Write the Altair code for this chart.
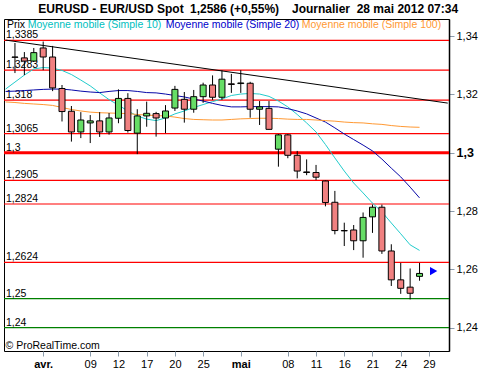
import altair as alt
import pandas as pd

FONT = "Liberation Sans"

# ---- candles (trading-day index 0 = 28 mars 2012 ... 43 = 28 mai 2012) ----
day_idx = list(range(44))
opens = [1.3328, 1.3325, 1.3314, 1.3359, 1.3328, 1.3220, 1.3142, 1.3071, 1.3102, 1.3109,
         1.3071, 1.3118, 1.3186, 1.3067, 1.3126, 1.3134, 1.3119, 1.3153, 1.3183, 1.3149,
         1.3192, 1.3232, 1.3190, 1.3236, 1.3237, 1.3238, 1.3149, 1.3152, 1.3012, 1.3061,
         1.2991, 1.2934, 1.2932, 1.2903, 1.2830, 1.2733, 1.2735, 1.2698, 1.2780, 1.2813,
         1.2663, 1.2564, 1.2539, 1.2576]
highs = [1.3376, 1.3345, 1.3359, 1.3381, 1.3366, 1.3232, 1.3160, 1.3139, 1.3129, 1.3139,
         1.3136, 1.3217, 1.3204, 1.3149, 1.3175, 1.3140, 1.3163, 1.3229, 1.3208, 1.3215,
         1.3240, 1.3265, 1.3282, 1.3270, 1.3283, 1.3243, 1.3177, 1.3177, 1.3064, 1.3064,
         1.3006, 1.2977, 1.2958, 1.2905, 1.2869, 1.2760, 1.2752, 1.2795, 1.2822, 1.2822,
         1.2686, 1.2622, 1.2603, 1.2622]
lows = [1.3273, 1.3266, 1.3311, 1.3283, 1.3211, 1.3107, 1.3038, 1.3050, 1.3033, 1.3054,
        1.3062, 1.3101, 1.3069, 1.2995, 1.3089, 1.3055, 1.3067, 1.3143, 1.3103, 1.3137,
        1.3171, 1.3181, 1.3181, 1.3205, 1.3205, 1.3120, 1.3095, 1.3079, 1.2952, 1.2981,
        1.2912, 1.2923, 1.2906, 1.2816, 1.2720, 1.2680, 1.2666, 1.2640, 1.2725, 1.2653,
        1.2543, 1.2516, 1.2497, 1.2561]
closes = [1.3327, 1.3314, 1.3343, 1.3328, 1.3222, 1.3141, 1.3071, 1.3112, 1.3109, 1.3071,
          1.3119, 1.3186, 1.3076, 1.3126, 1.3135, 1.3119, 1.3143, 1.3217, 1.3149, 1.3192,
          1.3232, 1.3190, 1.3252, 1.3234, 1.3239, 1.3149, 1.3157, 1.3080, 1.3061, 1.2991,
          1.2937, 1.2932, 1.2916, 1.2829, 1.2733, 1.2732, 1.2698, 1.2778, 1.2813, 1.2663,
          1.2564, 1.2535, 1.2518, 1.2586]

# ---- moving averages (index -1 .. 43) ----
ma_idx = list(range(-1, 44))
sma10 = [1.3218, 1.3242, 1.3266, 1.3287, 1.3292, 1.3290, 1.3282, 1.3268, 1.3249, 1.3229,
         1.3205, 1.3182, 1.3163, 1.3143, 1.3126, 1.3115, 1.3110, 1.3119, 1.3133, 1.3143,
         1.3155, 1.3165, 1.3175, 1.3184, 1.3196, 1.3201, 1.3203, 1.3201, 1.3193, 1.3177,
         1.3157, 1.3131, 1.3102, 1.3071, 1.3028, 1.2982, 1.2937, 1.2896, 1.2862, 1.2827,
         1.2797, 1.2759, 1.2722, 1.2684, 1.2665]
sma20 = [1.3210, 1.3211, 1.3213, 1.3215, 1.3217, 1.3218, 1.3218, 1.3215, 1.3211, 1.3208,
         1.3206, 1.3210, 1.3213, 1.3213, 1.3210, 1.3206, 1.3205, 1.3201, 1.3196, 1.3191,
         1.3184, 1.3177, 1.3169, 1.3162, 1.3157, 1.3157, 1.3158, 1.3158, 1.3158, 1.3157,
         1.3151, 1.3143, 1.3133, 1.3119, 1.3105, 1.3085, 1.3064, 1.3045, 1.3026, 1.3006,
         1.2978, 1.2947, 1.2917, 1.2882, 1.2845]
sma100 = [1.3174, 1.3172, 1.3169, 1.3167, 1.3165, 1.3162, 1.3155, 1.3148, 1.3143, 1.3139,
          1.3137, 1.3136, 1.3135, 1.3134, 1.3131, 1.3129, 1.3127, 1.3126, 1.3122, 1.3117,
          1.3114, 1.3113, 1.3112, 1.3112, 1.3114, 1.3116, 1.3117, 1.3118, 1.3118, 1.3117,
          1.3115, 1.3114, 1.3114, 1.3112, 1.3110, 1.3108, 1.3105, 1.3103, 1.3102, 1.3099,
          1.3097, 1.3093, 1.3090, 1.3088, 1.3087]

# ---- drawn levels ----
red_levels = [1.3385, 1.3283, 1.318, 1.3065, 1.2905, 1.2824, 1.2624]
pivot_levels = [1.3]
green_levels = [1.25, 1.24]

# ---- trend line ----
trend_idx = [-1, 46]
trend_val = [1.3386, 1.3170]

# ---- last price marker ----
marker_idx = [44.5]
marker_val = [1.2594]

# ---- axes ----
x_tick_idx = [3, 8, 11, 14, 17, 20, 24, 29, 32, 35, 38, 41, 44]
x_tick_lbl = ["avr.", "09", "12", "17", "20", "25", "mai", "08", "11", "16", "21", "24", "29"]
month_ticks = [3, 24]
y_ticks = [1.24, 1.25, 1.26, 1.27, 1.28, 1.29, 1.30, 1.31, 1.32, 1.33, 1.34]

X_DOM = [-0.634, 45.6]
Y_DOM = [1.23201, 1.34583]

candles = pd.DataFrame({"i": day_idx, "open": opens, "high": highs, "low": lows, "close": closes})
ma = pd.DataFrame({"i": ma_idx * 3,
                   "v": sma10 + sma20 + sma100,
                   "s": ["10"] * len(ma_idx) + ["20"] * len(ma_idx) + ["100"] * len(ma_idx)})

def lvl_df(vals):
    return pd.DataFrame({"v": vals, "lbl": [("%g" % v).replace(".", ",") for v in vals]})

xs = alt.Scale(domain=X_DOM, nice=False, zero=False)
ys = alt.Scale(domain=Y_DOM, nice=False, zero=False)

label_expr = ""
for t, l in zip(x_tick_idx, x_tick_lbl):
    label_expr += f"datum.value == {t} ? '{l}' : "
label_expr += "''"
bold_test = " || ".join(f"datum.value == {t}" for t in month_ticks)

x_axis = alt.Axis(values=x_tick_idx, labelExpr=label_expr, grid=False, domain=False,
                  tickColor="#8c9cac", tickSize=5, labelFont=FONT, labelFontSize=11,
                  labelColor="black", labelPadding=2, title=None,
                  labelFontWeight=alt.condition(bold_test, alt.value("bold"), alt.value("normal")))
y_axis = alt.Axis(orient="right", values=y_ticks, grid=False, domain=True, domainColor="black",
                  domainWidth=1.5, tickColor="#8c9cac", tickSize=5, labelFont=FONT,
                  labelColor="black", labelPadding=2, title=None,
                  labelExpr="round(datum.value*100) % 2 == 0 ? replace(format(datum.value, '.2~f'), '.', ',') : ''",
                  labelFontWeight=alt.condition("abs(datum.value - 1.3) < 0.0001", alt.value("bold"), alt.value("normal")),
                  labelFontSize=alt.condition("abs(datum.value - 1.3) < 0.0001", alt.value(12.5), alt.value(11)))

base_x = alt.X("i:Q", scale=xs, axis=x_axis)

red = alt.Chart(lvl_df(red_levels)).mark_rule(color="#ff0000", strokeWidth=1.2).encode(
    y=alt.Y("v:Q", scale=ys, axis=y_axis))
pivot = alt.Chart(lvl_df(pivot_levels)).mark_rule(color="#ff0000", strokeWidth=3).encode(
    y=alt.Y("v:Q", scale=ys))
green = alt.Chart(lvl_df(green_levels)).mark_rule(color="#008000", strokeWidth=1.2).encode(
    y=alt.Y("v:Q", scale=ys))
lvl_labels = alt.Chart(lvl_df(red_levels + pivot_levels + green_levels)).mark_text(
    align="left", baseline="alphabetic", dy=-2, font=FONT, fontSize=10.5, color="black").encode(
    x=alt.value(2), y=alt.Y("v:Q", scale=ys), text="lbl:N")

trend = alt.Chart(pd.DataFrame({"i": trend_idx, "v": trend_val})).mark_line(
    color="black", strokeWidth=1, clip=True).encode(x=base_x, y=alt.Y("v:Q", scale=ys))

ma_lines = alt.Chart(ma).mark_line(strokeWidth=1, clip=True).encode(
    x=base_x, y=alt.Y("v:Q", scale=ys),
    color=alt.Color("s:N", scale=alt.Scale(domain=["10", "20", "100"],
                                          range=["#22cccc", "#0808a8", "#ff9933"]), legend=None),
    detail="s:N")

wicks = alt.Chart(candles).mark_rule(color="black", strokeWidth=1).encode(
    x=base_x, y=alt.Y("low:Q", scale=ys), y2="high:Q")
bodies = alt.Chart(candles).mark_bar(size=6, stroke="black", strokeWidth=1).encode(
    x=base_x, y=alt.Y("open:Q", scale=ys), y2="close:Q",
    fill=alt.condition("datum.close >= datum.open", alt.value("#66dd66"), alt.value("#f08080")))

marker = alt.Chart(pd.DataFrame({"i": marker_idx, "v": marker_val})).mark_point(
    shape="triangle-right", filled=True, color="#0000ff", size=70, opacity=1).encode(
    x=base_x, y=alt.Y("v:Q", scale=ys))

def txt(s, x, y, color="black", size=10.5, weight="normal", align="left", baseline="alphabetic"):
    return alt.Chart(pd.DataFrame({"t": [s]})).mark_text(
        align=align, baseline=baseline, font=FONT, fontSize=size, fontWeight=weight, color=color
    ).encode(text="t:N", x=alt.value(x), y=alt.value(y))

texts = [
    txt("EURUSD - EUR/USD Spot", 107, -6, size=12, weight="bold", align="center"),
    txt("1,2586 (+0,55%)", 186, -6, size=12, weight="bold"),
    txt("Journalier\u00a0\u00a028 mai 2012 07:34", 288, -6, size=12, weight="bold"),
    txt("Prix", 3, 8.5),
    txt("Moyenne mobile (Simple 10)", 23.7, 8.5, color="#00c0c0"),
    txt("Moyenne mobile (Simple 20)", 161.7, 8.5, color="#0000cc"),
    txt("Moyenne mobile (Simple 100)", 297.7, 8.5, color="#ff9933"),
    txt("\u00a9 ProRealTime.com", 1.5, 330),
]

chart = alt.layer(red, pivot, green, lvl_labels, trend, ma_lines, wicks, bodies, marker, *texts).properties(
    width=445, height=332,
    autosize=alt.AutoSizeParams(type="none"),
    padding={"left": 4, "top": 19, "right": 51, "bottom": 19},
    background="white",
).configure_view(stroke="black", strokeWidth=1)

chart.save("out.html", embed_options={"renderer": "svg", "actions": False})
